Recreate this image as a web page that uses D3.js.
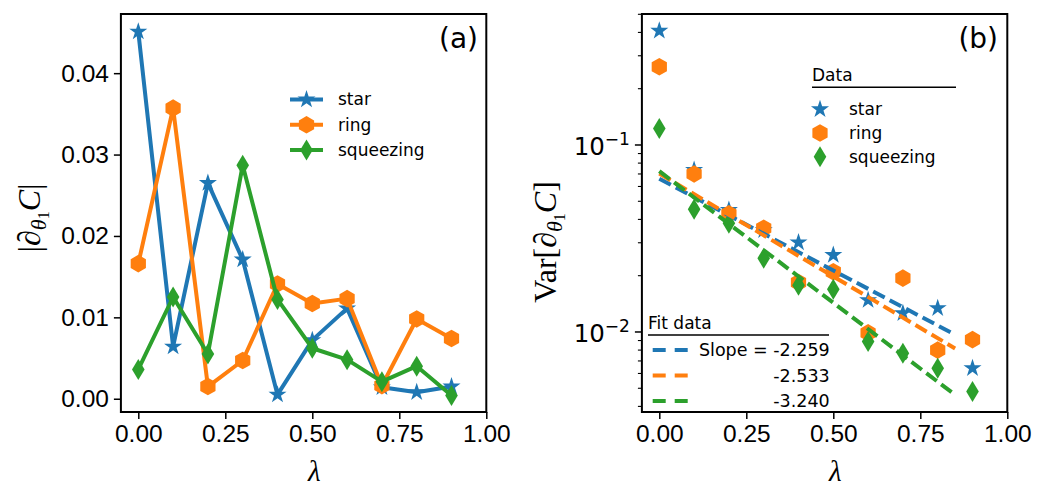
<!DOCTYPE html>
<html>
<head>
<meta charset="utf-8">
<script src="https://cdn.jsdelivr.net/npm/d3@7"></script>
<style>
  body { margin: 0; background: #fff; }
  svg { display: block; }
</style>
</head>
<body>
<svg id="chart"></svg>
<script>
// lambda values (x axis, both panels)
const lambdas = [0.0, 0.1, 0.2, 0.3, 0.4, 0.5, 0.6, 0.7, 0.8, 0.9];

// panel (a): |d_theta1 C|
const starAbs = [0.0451, 0.0064, 0.0265, 0.0171, 0.0005, 0.0072, 0.0111, 0.0014, 0.0008, 0.0015];
const ringAbs = [0.0166, 0.0357, 0.0015, 0.0047, 0.0141, 0.0117, 0.0123, 0.0016, 0.0098, 0.0074];
const squeezAbs = [0.0036, 0.0125, 0.0055, 0.0287, 0.0122, 0.0062, 0.0048, 0.0021, 0.0040, 0.0004];

// panel (b): Var[d_theta1 C]
const starVar = [0.408, 0.0735, 0.0449, 0.035, 0.0301, 0.0258, 0.0148, 0.0126, 0.0134, 0.0064];
const ringVar = [0.262, 0.070, 0.0428, 0.0359, 0.0184, 0.0210, 0.0099, 0.0194, 0.0080, 0.0091];
const squeezVar = [0.1227, 0.0453, 0.0381, 0.0248, 0.0178, 0.0169, 0.0089, 0.0077, 0.0064, 0.0048];

// exponential fits y = A * exp(slope * lambda)
const fitSlopes = [-2.259, -2.533, -3.240];
const fitIntercepts = [0.066, 0.0703, 0.0724];
const fitRange = [0, 0.85];

const seriesNames = ["star", "ring", "squeezing"];
const xTicks = [0, 0.25, 0.5, 0.75, 1.0];
const yTicksA = [0, 0.01, 0.02, 0.03, 0.04];
const yTicksB = [0.01, 0.1];

const colors = ["#1f77b4", "#ff7f0e", "#2ca02c"];

const W = 1045, H = 490;
const svg = d3.select("#chart").attr("width", W).attr("height", H)
  .attr("font-family", "DejaVu Sans, sans-serif");
svg.append("rect").attr("width", W).attr("height", H).attr("fill", "#fff");

const yTop = 14, yBottom = 412;
const serif = "Liberation Serif, DejaVu Serif, serif";

// marker shapes
function starPath(R) {
  const r = R * 0.382, pts = [];
  for (let i = 0; i < 10; i++) {
    const a = -Math.PI / 2 + i * Math.PI / 5;
    const rr = i % 2 ? r : R;
    pts.push([rr * Math.cos(a), rr * Math.sin(a)]);
  }
  return "M" + pts.join("L") + "Z";
}
function hexPath(R) {
  const pts = [];
  for (let i = 0; i < 6; i++) {
    const a = -Math.PI / 2 + i * Math.PI / 3;
    pts.push([R * Math.cos(a), R * Math.sin(a)]);
  }
  return "M" + pts.join("L") + "Z";
}
function diamondPath(h) {
  const w = h * 0.6;
  return `M0,${-h}L${w},0L0,${h}L${-w},0Z`;
}
const markers = [starPath(9.5), hexPath(8.8), diamondPath(10.5)];

function frame(x0, x1) {
  svg.append("rect")
    .attr("x", x0).attr("y", yTop)
    .attr("width", x1 - x0).attr("height", yBottom - yTop)
    .attr("fill", "none").attr("stroke", "#000").attr("stroke-width", 2);
}

function xAxis(x) {
  const g = svg.append("g").attr("transform", `translate(0,${yBottom})`)
    .call(d3.axisBottom(x).tickValues(xTicks).tickFormat(d3.format(".2f")).tickSize(7).tickPadding(6));
  g.select(".domain").remove();
  g.selectAll(".tick line").attr("stroke-width", 1.5);
  g.selectAll(".tick text").attr("font-size", 24.5).attr("font-family", null).attr("fill", "#000");
  return g;
}

// ---------- panel (a) ----------
const xa = d3.scaleLinear().domain([-0.05, 1.0]).range([120.9, 486.3]);
const ya = d3.scaleLinear().domain([-0.00163, 0.04727]).range([yBottom, yTop]);

xAxis(xa);
const gya = svg.append("g").attr("transform", `translate(${xa.range()[0]},0)`)
  .call(d3.axisLeft(ya).tickValues(yTicksA).tickFormat(d3.format(".2f")).tickSize(7).tickPadding(5));
gya.select(".domain").remove();
gya.selectAll(".tick line").attr("stroke-width", 1.5);
gya.selectAll(".tick text").attr("font-size", 24.5).attr("font-family", null).attr("fill", "#000");

const absData = [starAbs, ringAbs, squeezAbs];
const lineA = d3.line().x((d, i) => xa(lambdas[i])).y(d => ya(d));
absData.forEach((vals, k) => {
  svg.append("path").datum(vals)
    .attr("d", lineA)
    .attr("fill", "none").attr("stroke", colors[k])
    .attr("stroke-width", 4).attr("stroke-linejoin", "round");
  svg.append("g").selectAll("path").data(vals).join("path")
    .attr("d", markers[k])
    .attr("transform", (d, i) => `translate(${xa(lambdas[i])},${ya(d)})`)
    .attr("fill", colors[k]);
});
frame(xa.range()[0], xa.range()[1]);

// legend (a)
const legA = svg.append("g").selectAll("g").data(seriesNames).join("g")
  .attr("transform", (d, i) => `translate(290,${99.5 + i * 25.3})`);
legA.append("line").attr("x1", 0).attr("x2", 33)
  .attr("stroke", (d, i) => colors[i]).attr("stroke-width", 4);
legA.append("path").attr("d", (d, i) => markers[i])
  .attr("transform", "translate(16.5,0)").attr("fill", (d, i) => colors[i]);
legA.append("text").attr("x", 48).attr("dy", "0.35em")
  .attr("font-size", 17).text(d => d);

svg.append("text").attr("x", 478).attr("y", 48).attr("text-anchor", "end")
  .attr("font-size", 28).text("(a)");

// axis labels (a)
svg.append("text").attr("x", xa(0.5) + 2).attr("y", 481).attr("text-anchor", "middle")
  .attr("font-family", serif).attr("font-style", "italic").attr("font-size", 29)
  .text("λ");
const ylA = svg.append("text")
  .attr("transform", "translate(40,218) rotate(-90)")
  .attr("text-anchor", "middle")
  .attr("font-family", serif).attr("font-size", 32);
ylA.append("tspan").text("|");
ylA.append("tspan").attr("font-style", "italic").text("∂");
ylA.append("tspan").attr("font-style", "italic").attr("font-size", 22).attr("dy", 6).text("θ");
ylA.append("tspan").attr("font-size", 16).attr("dy", 3).text("1");
ylA.append("tspan").attr("font-style", "italic").attr("dy", -9).text("C");
ylA.append("tspan").text("|");

// ---------- panel (b) ----------
const xb = d3.scaleLinear().domain([-0.05, 1.0]).range([641.9, 1007.3]);
const yb = d3.scaleLog().domain([0.003733, 0.5018]).range([yBottom, yTop]);

xAxis(xb);
// minor log ticks
const minor = [];
[0.001, 0.01, 0.1].forEach(dec => { for (let m = 2; m <= 9; m++) minor.push(dec * m); });
const minorIn = minor.filter(v => v > yb.domain()[0] && v < yb.domain()[1]);
svg.append("g").selectAll("line").data(minorIn).join("line")
  .attr("x1", xb.range()[0] - 4).attr("x2", xb.range()[0])
  .attr("y1", d => yb(d)).attr("y2", d => yb(d))
  .attr("stroke", "#000").attr("stroke-width", 1.1);
const gyb = svg.append("g").selectAll("g").data(yTicksB).join("g")
  .attr("transform", d => `translate(${xb.range()[0]},${yb(d)})`);
gyb.append("line").attr("x1", -7).attr("x2", 0).attr("stroke", "#000").attr("stroke-width", 1.5);
const tb = gyb.append("text").attr("x", -12).attr("dy", "0.4em").attr("text-anchor", "end")
  .attr("font-size", 24.5);
tb.append("tspan").text("10");
tb.append("tspan").attr("font-size", 17).attr("dy", -10)
  .text(d => "\u2212" + Math.round(-Math.log10(d)));

const varData = [starVar, ringVar, squeezVar];
varData.forEach((vals, k) => {
  svg.append("g").selectAll("path").data(vals).join("path")
    .attr("d", markers[k])
    .attr("transform", (d, i) => `translate(${xb(lambdas[i])},${yb(d)})`)
    .attr("fill", colors[k]);
});
fitSlopes.forEach((s, k) => {
  const pts = fitRange.map(l => [l, fitIntercepts[k] * Math.exp(s * l)]);
  svg.append("path").datum(pts)
    .attr("d", d3.line().x(d => xb(d[0])).y(d => yb(d[1])))
    .attr("fill", "none").attr("stroke", colors[k])
    .attr("stroke-width", 4).attr("stroke-dasharray", "13,5.6");
});
frame(xb.range()[0], xb.range()[1]);

svg.append("text").attr("x", 998).attr("y", 48).attr("text-anchor", "end")
  .attr("font-size", 28).text("(b)");

// legend (b): data
svg.append("text").attr("x", 812).attr("y", 81).attr("font-size", 17).text("Data");
svg.append("line").attr("x1", 812).attr("x2", 956).attr("y1", 87.3).attr("y2", 87.3)
  .attr("stroke", "#000").attr("stroke-width", 1.5);
const legB = svg.append("g").selectAll("g").data(seriesNames).join("g")
  .attr("transform", (d, i) => `translate(820,${109.3 + i * 23.7})`);
legB.append("path").attr("d", (d, i) => markers[i]).attr("fill", (d, i) => colors[i]);
legB.append("text").attr("x", 29).attr("dy", "0.35em").attr("font-size", 17).text(d => d);

// legend (b): fit
svg.append("text").attr("x", 648).attr("y", 329).attr("font-size", 17).text("Fit data");
svg.append("line").attr("x1", 648).attr("x2", 829).attr("y1", 335).attr("y2", 335)
  .attr("stroke", "#000").attr("stroke-width", 1.5);
const legF = svg.append("g").selectAll("g").data(fitSlopes).join("g")
  .attr("transform", (d, i) => `translate(652.7,${350 + i * 25.5})`);
legF.append("line").attr("x1", 0).attr("x2", 36)
  .attr("stroke", (d, i) => colors[i]).attr("stroke-width", 4).attr("stroke-dasharray", "13,9");
legF.append("text").attr("x", 177).attr("dy", "0.35em").attr("text-anchor", "end")
  .attr("font-size", 17.5)
  .text((d, i) => (i === 0 ? "Slope = " : "") + d3.format(".3f")(d).replace("−", "-"));

// axis labels (b)
svg.append("text").attr("x", xb(0.5) + 2).attr("y", 481).attr("text-anchor", "middle")
  .attr("font-family", serif).attr("font-style", "italic").attr("font-size", 29)
  .text("λ");
const ylB = svg.append("text")
  .attr("transform", "translate(556,242) rotate(-90)")
  .attr("text-anchor", "middle")
  .attr("font-family", serif).attr("font-size", 32);
ylB.append("tspan").text("Var[");
ylB.append("tspan").attr("font-style", "italic").text("∂");
ylB.append("tspan").attr("font-style", "italic").attr("font-size", 22).attr("dy", 6).text("θ");
ylB.append("tspan").attr("font-size", 16).attr("dy", 3).text("1");
ylB.append("tspan").attr("font-style", "italic").attr("dy", -9).text("C");
ylB.append("tspan").text("]");
</script>
</body>
</html>
